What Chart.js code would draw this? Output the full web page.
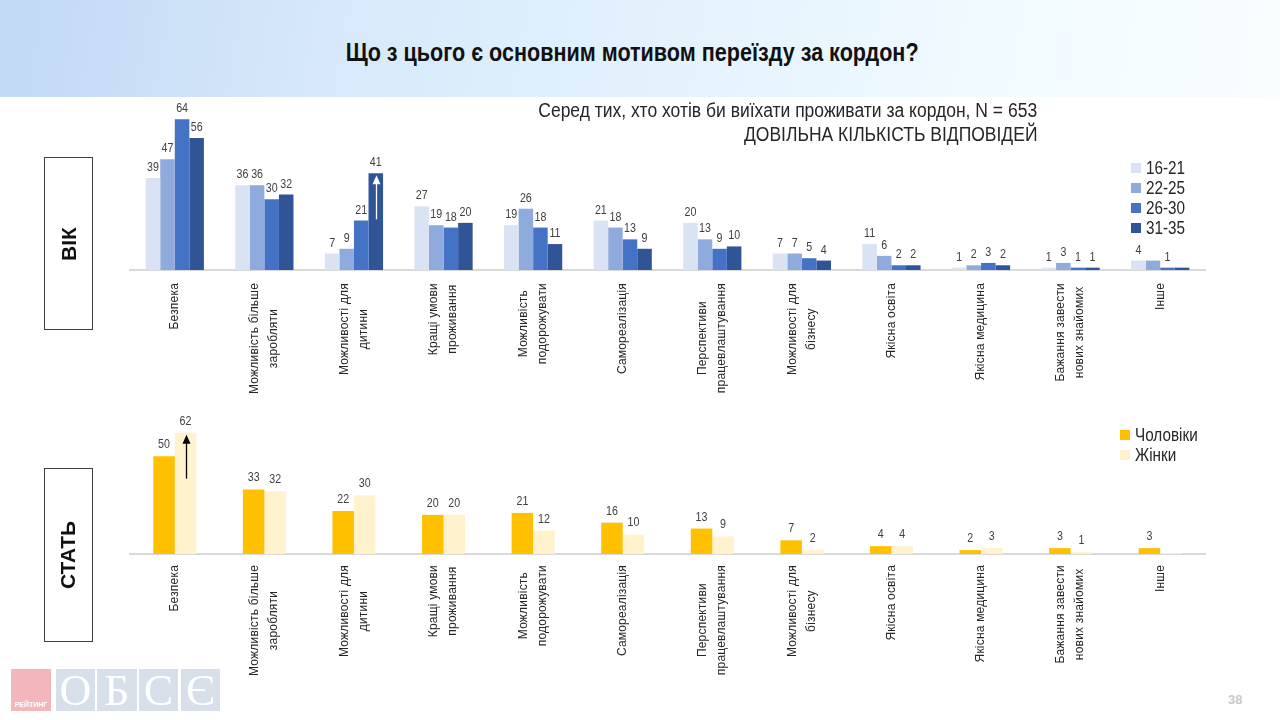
<!DOCTYPE html>
<html><head><meta charset="utf-8">
<script src="https://cdn.jsdelivr.net/npm/chart.js@4.4.1/dist/chart.umd.min.js"></script>
<style>
html,body{margin:0;padding:0;width:1280px;height:720px;overflow:hidden;background:#fff;font-family:"Liberation Sans",Arial,sans-serif;}
.abs{position:absolute;}
#hdr{left:0;top:0;width:1280px;height:97px;background:linear-gradient(100deg,#c1d8f4 0%,#d6e8fa 25%,#e5f3fd 55%,#f2fbff 80%,#f8fdff 100%);}
#title{left:0;top:37px;width:1264px;height:30px;text-align:center;white-space:nowrap;}
#title span{display:inline-block;font:bold 26px/30px "Liberation Sans",Arial,sans-serif;color:#111;transform:scaleX(0.83);transform-origin:center;}
.sub{right:243px;height:24px;white-space:nowrap;text-align:right;}
.sub span{display:inline-block;font:20px/24px "Liberation Sans",Arial,sans-serif;color:#262626;transform:scaleX(0.875);transform-origin:right center;}
.box{border:1.5px solid #404040;box-sizing:border-box;display:flex;align-items:center;justify-content:center;}
.box span{transform:rotate(-90deg);font:bold 21px "Liberation Sans",Arial,sans-serif;color:#111;white-space:nowrap;}
.leg div{position:relative;height:20px;padding-left:15px;white-space:nowrap;}
.leg span{display:inline-block;font:18px/20px "Liberation Sans",Arial,sans-serif;color:#262626;transform:scaleX(0.85);transform-origin:left center;}
.leg i{position:absolute;left:0;top:5px;width:10px;height:10px;}
.lg{top:669px;height:42px;background:#d6dfea;color:#fff;font:44px "Liberation Serif","DejaVu Serif",serif;text-align:center;line-height:44px;overflow:hidden;}
#pink{left:11px;top:669px;width:40px;height:42px;background:#f3b6bb;}
#pink span{position:absolute;left:0;bottom:3px;width:40px;text-align:center;font:bold 7px "Liberation Sans",Arial,sans-serif;color:#fff;}
#page{left:1228px;top:692px;font:bold 13px "Liberation Sans",Arial,sans-serif;color:#c9c9c9;}
</style></head><body>
<div id="hdr" class="abs"></div>
<div id="title" class="abs"><span>Що з цього є основним мотивом переїзду за кордон?</span></div>

<div class="abs" style="left:0;top:90px;"><canvas id="ageChart" width="1280" height="320"></canvas></div>
<div class="abs" style="left:0;top:400px;"><canvas id="genderChart" width="1280" height="290"></canvas></div>

<div class="abs sub" style="top:98px;"><span>Серед тих, хто хотів би виїхати проживати за кордон, N = 653</span></div>
<div class="abs sub" style="top:122px;"><span>ДОВІЛЬНА КІЛЬКІСТЬ ВІДПОВІДЕЙ</span></div>

<div class="abs box" style="left:44px;top:157px;width:49px;height:173px;"><span>ВІК</span></div>
<div class="abs box" style="left:44px;top:468px;width:49px;height:174px;"><span>СТАТЬ</span></div>

<div id="legAge" class="abs leg" style="left:1131px;top:158px;"></div>
<div id="legGender" class="abs leg" style="left:1120px;top:425px;"></div>

<div id="pink" class="abs"><span>РЕЙТИНГ</span></div>
<div class="abs lg" style="left:56px;width:39px;">О</div>
<div class="abs lg" style="left:97px;width:40px;">Б</div>
<div class="abs lg" style="left:139px;width:39px;">С</div>
<div class="abs lg" style="left:181px;width:39px;">Є</div>
<div id="page" class="abs">38</div>

<script>
// ---------- DATA ----------
const categories = [
  ["Безпека"],
  ["Можливість більше","заробляти"],
  ["Можливості для","дитини"],
  ["Кращі умови","проживання"],
  ["Можливість","подорожувати"],
  ["Самореалізація"],
  ["Перспективи","працевлаштування"],
  ["Можливості для","бізнесу"],
  ["Якісна освіта"],
  ["Якісна медицина"],
  ["Бажання завести","нових знайомих"],
  ["Інше"]
];
const ageGroups = ["16-21","22-25","26-30","31-35"];
const age16_21 = [39,36,7,27,19,21,20,7,11,1,1,4];
const age22_25 = [47,36,9,19,26,18,13,7,6,2,3,4];
const age26_30 = [64,30,21,18,18,13,9,5,2,3,1,1];
const age31_35 = [56,32,41,20,11,9,10,4,2,2,1,1];
const ageHiddenLabels = [[1,11],[3,11]]; // [series, category] labels not printed in source
const genderGroups = ["Чоловіки","Жінки"];
const men   = [50,33,22,20,21,16,13,7,4,2,3,3];
const women = [62,32,30,20,12,10,9,2,4,3,1,0.4];
const ageColors = ["#dae3f3","#8faadc","#4472c4","#2f5597"];
const genderColors = ["#ffc000","#fff2cc"];
const yMaxAge = 70, yMaxGender = 70;

// ---------- PLUGINS ----------
const valueLabels = {
  id:'vlabels',
  afterDatasetsDraw(chart, args, opts){
    const ctx = chart.ctx;
    ctx.save();
    ctx.font = '13px "Liberation Sans",Arial,sans-serif';
    ctx.fillStyle = '#404040';
    ctx.textAlign = 'center';
    ctx.textBaseline = 'alphabetic';
    chart.data.datasets.forEach((ds, di) => {
      const meta = chart.getDatasetMeta(di);
      meta.data.forEach((el, i) => {
        const v = ds.data[i];
        if (v < 1) return;
        if ((opts.hidden || []).some(h => h[0] === di && h[1] === i)) return;
        ctx.save();
        ctx.translate(el.x, el.y - opts.gap);
        ctx.scale(0.82, 1);
        ctx.fillText(String(v), 0, 0);
        ctx.restore();
      });
    });
    ctx.restore();
  }
};
const xLabels = {
  id:'xlabels',
  afterDraw(chart, args, opts){
    const ctx = chart.ctx, xs = chart.scales.x, ys = chart.scales.y;
    const y0 = ys.getPixelForValue(0) + opts.gap;
    ctx.save();
    ctx.font = '12px "Liberation Sans",Arial,sans-serif';
    ctx.fillStyle = '#262626';
    try { ctx.letterSpacing = '0.2px'; } catch(e) {}
    ctx.textAlign = 'center';
    ctx.textBaseline = 'middle';
    chart.data.labels.forEach((lab, i) => {
      const lines = Array.isArray(lab) ? lab : [lab];
      const w = Math.max(...lines.map(l => ctx.measureText(l).width));
      const cx = xs.getPixelForValue(i);
      ctx.save();
      ctx.translate(cx, y0 + w / 2);
      ctx.rotate(-Math.PI / 2);
      lines.forEach((l, k) => ctx.fillText(l, 0, (k - (lines.length - 1) / 2) * opts.lineGap));
      ctx.restore();
    });
    ctx.restore();
  }
};
const arrowMark = {
  id:'arrowmark',
  afterDatasetsDraw(chart, args, opts){
    if (!opts || opts.dataset === undefined) return;
    const el = chart.getDatasetMeta(opts.dataset).data[opts.index];
    const ctx = chart.ctx;
    const x = Math.round(el.x) + 0.5, top = el.y + 2, bot = el.y + opts.len;
    ctx.save();
    ctx.strokeStyle = opts.color; ctx.fillStyle = opts.color; ctx.lineWidth = 1.3;
    ctx.beginPath(); ctx.moveTo(x, bot); ctx.lineTo(x, top + 7); ctx.stroke();
    ctx.beginPath(); ctx.moveTo(x, top); ctx.lineTo(x - 4, top + 9); ctx.lineTo(x + 4, top + 9); ctx.closePath(); ctx.fill();
    ctx.restore();
  }
};

function makeChart(id, datasets, yMax, padding, catPct, pluginOpts){
  return new Chart(document.getElementById(id), {
    type:'bar',
    data:{labels:categories, datasets:datasets.map(d => Object.assign({categoryPercentage:catPct, barPercentage:1.0, borderWidth:0}, d))},
    options:{
      responsive:false, animation:false, devicePixelRatio:1,
      layout:{padding},
      plugins:Object.assign({legend:{display:false}, tooltip:{enabled:false}}, pluginOpts),
      scales:{
        x:{grid:{display:false, drawTicks:false, tickLength:0}, ticks:{display:false}, border:{display:true, color:'#d9d9d9', width:2}},
        y:{display:false, min:0, max:yMax}
      }
    },
    plugins:[valueLabels, xLabels, arrowMark]
  });
}

makeChart('ageChart',
  [age16_21, age22_25, age26_30, age31_35].map((d, k) => ({label:ageGroups[k], data:d, backgroundColor:ageColors[k]})),
  yMaxAge, {left:130, right:75, top:15, bottom:140}, 0.65,
  {vlabels:{gap:7, hidden:ageHiddenLabels}, xlabels:{gap:13, lineGap:19}, arrowmark:{dataset:3, index:2, color:'#ffffff', len:46}});

makeChart('genderChart',
  [men, women].map((d, k) => ({label:genderGroups[k], data:d, backgroundColor:genderColors[k]})),
  yMaxGender, {left:130, right:75, top:17, bottom:136}, 0.48,
  {vlabels:{gap:8}, xlabels:{gap:11, lineGap:19}, arrowmark:{dataset:1, index:0, color:'#000000', len:46}});

// ---------- LEGENDS ----------
function legend(id, names, colors){
  const el = document.getElementById(id);
  names.forEach((n, k) => {
    const d = document.createElement('div');
    d.innerHTML = '<i style="background:' + colors[k] + '"></i><span>' + n + '</span>';
    el.appendChild(d);
  });
}
legend('legAge', ageGroups, ageColors);
legend('legGender', genderGroups, genderColors);
</script>
</body></html>
